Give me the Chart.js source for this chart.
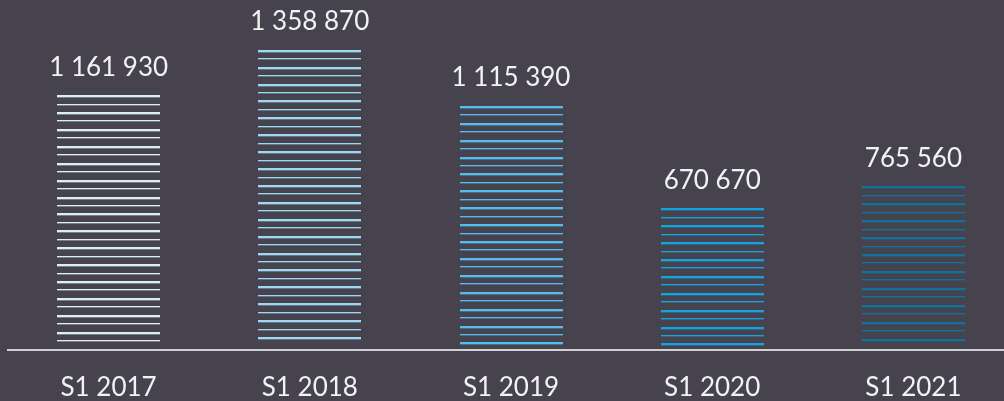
<!DOCTYPE html>
<html>
<head>
<meta charset="utf-8">
<script src="https://cdn.jsdelivr.net/npm/chart.js@4.4.1/dist/chart.umd.min.js"></script>
<style>
  html, body { margin: 0; padding: 0; background: #46434f; overflow: hidden; }
  #wrap { width: 1014px; height: 427px; position: relative; }
</style>
</head>
<body>
<div id="wrap"><canvas id="chart"></canvas></div>
<script>
// half-year totals, S1 2017 - S1 2021
const categories = ['S1 2017', 'S1 2018', 'S1 2019', 'S1 2020', 'S1 2021'];
const values = [1161930, 1358870, 1115390, 670670, 765560];
const valueLabels = ['1 161 930', '1 358 870', '1 115 390', '670 670', '765 560'];
const stripeColors = ['#daeefa', '#9dd7f3', '#4fc0ec', '#12a3e0', '#10739d'];

const FONT = 'Lato, "Open Sans", sans-serif';
const TEXT = '#f2f2f2';

// draws the bars as horizontal stripes + the value labels above them
const stripes = {
  id: 'stripes',
  afterDatasetsDraw(chart) {
    const ctx = chart.ctx;
    const area = chart.chartArea;
    const meta = chart.getDatasetMeta(0);
    ctx.save();
    meta.data.forEach((bar, i) => {
      const left = Math.round(bar.x - bar.width / 2);
      const w = Math.round(bar.width);
      const top = bar.y;
      const bottom = Math.min(bar.base, area.bottom) - 5;
      let n = 0;
      for (let y = top; y <= bottom; y += 8.45, n++) {
        const yy = Math.round(y);
        const thick = n % 2 === 0 ? 2 : 1;
        ctx.fillStyle = stripeColors[i];
        ctx.fillRect(left, yy, w, thick);
        ctx.globalAlpha = 0.35;
        ctx.fillRect(left, yy + thick, w, 1);
        ctx.globalAlpha = 1;
      }
      ctx.fillStyle = TEXT;
      ctx.font = '26px ' + FONT;
      ctx.textAlign = 'center';
      ctx.textBaseline = 'bottom';
      ctx.fillText(valueLabels[i], bar.x, top - 15);
    });
    ctx.restore();
  }
};

new Chart(document.getElementById('chart'), {
  type: 'bar',
  data: {
    labels: categories,
    datasets: [{
      data: values,
      backgroundColor: 'rgba(0,0,0,0)',
      borderWidth: 0,
      barPercentage: 0.51,
      categoryPercentage: 1
    }]
  },
  options: {
    responsive: true, maintainAspectRatio: false, animation: false,
    layout: { padding: { left: 8, right: 0, top: 0, bottom: 2 } },
    scales: {
      x: {
        grid: { display: false, drawTicks: false },
        border: { display: true, color: '#cfcfd4', width: 2 },
        ticks: { color: TEXT, font: { family: FONT, size: 26 }, padding: 22 }
      },
      y: { display: false, min: 56000, max: 1575000 }
    },
    plugins: { legend: { display: false }, tooltip: { enabled: false } }
  },
  plugins: [stripes]
});
</script>
</body>
</html>
